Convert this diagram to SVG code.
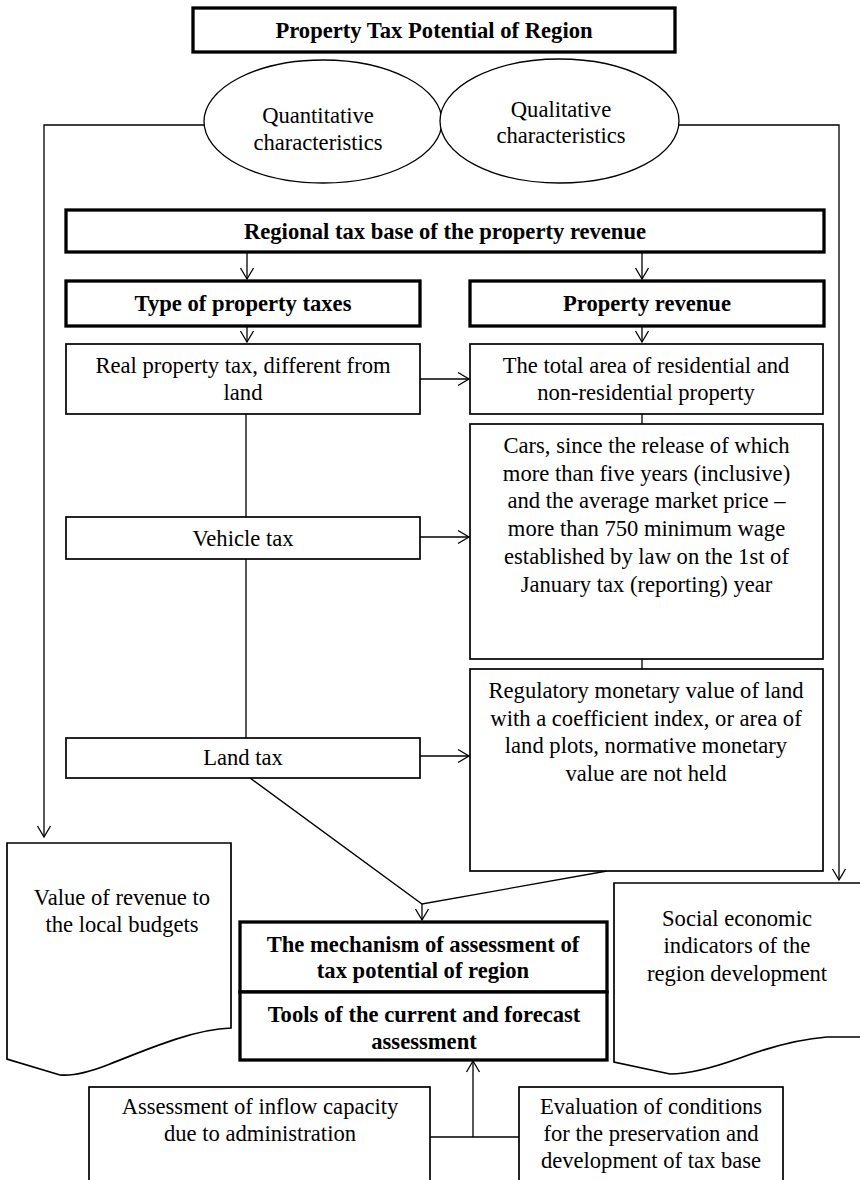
<svg xmlns="http://www.w3.org/2000/svg" width="860" height="1180" viewBox="0 0 860 1180">
<style>
text{font-family:"Liberation Serif","Times New Roman",serif;font-size:22.6px;fill:#000;text-anchor:middle}
.b{font-weight:bold}
.thick{fill:#fff;stroke:#000;stroke-width:3.3}
.thin{fill:#fff;stroke:#000;stroke-width:1.7}
.ln{fill:none;stroke:#000;stroke-width:1.3}
</style>
<defs>
<marker id="ah" markerUnits="userSpaceOnUse" markerWidth="16" markerHeight="16" viewBox="-13 -8 15 16" refX="0" refY="0" orient="auto">
<path d="M-11,-6.5 L0,0 L-11,6.5" fill="none" stroke="#000" stroke-width="1.3"/>
</marker>
</defs>
<rect width="860" height="1180" fill="#fff"/>
<g id="connectors">
<path class="ln" d="M204,125 H44 V837" marker-end="url(#ah)"/>
<path class="ln" d="M679,125 H839 V880" marker-end="url(#ah)"/>
<path class="ln" d="M247,252 V279" marker-end="url(#ah)"/>
<path class="ln" d="M642,252 V279" marker-end="url(#ah)"/>
<path class="ln" d="M247,326 V342" marker-end="url(#ah)"/>
<path class="ln" d="M642,326 V342" marker-end="url(#ah)"/>
<path class="ln" d="M420,379 H469" marker-end="url(#ah)"/>
<path class="ln" d="M420,537 H469" marker-end="url(#ah)"/>
<path class="ln" d="M420,756 H469" marker-end="url(#ah)"/>
<path class="ln" d="M246,414 V517 M246,559 V738"/>
<path class="ln" d="M642,414 V424 M642,659 V669"/>
<path class="ln" d="M250,778 L422,904 L607,871"/>
<path class="ln" d="M422,904 V920" marker-end="url(#ah)"/>
<path class="ln" d="M430,1137 H519 M473,1137 V1061" marker-end="url(#ah)"/>
</g>
<g id="title"><rect class="thick" x="193" y="8" width="482" height="44"/><text class="b" x="434" y="38">Property Tax Potential of Region</text></g>
<g id="quantitative"><ellipse class="thin" cx="323" cy="121.5" rx="119" ry="61.5" style="stroke-width:1.3"/><text x="318" y="123">Quantitative</text><text x="318" y="150">characteristics</text></g>
<g id="qualitative"><ellipse class="thin" cx="559.5" cy="121" rx="119.5" ry="62" style="stroke-width:1.3"/><text x="561" y="117">Qualitative</text><text x="561" y="143">characteristics</text></g>
<g id="regional"><rect class="thick" x="66" y="210" width="758" height="42"/><text class="b" x="445" y="239">Regional tax base of the property revenue</text></g>
<g id="type"><rect class="thick" x="66" y="281" width="354" height="45"/><text class="b" x="243" y="311">Type of property taxes</text></g>
<g id="revenue"><rect class="thick" x="470" y="281" width="354" height="45"/><text class="b" x="647" y="311">Property revenue</text></g>
<g id="realprop"><rect class="thin" x="66" y="344" width="354" height="70"/><text x="243" y="373">Real property tax, different from</text><text x="243" y="400">land</text></g>
<g id="totalarea"><rect class="thin" x="470" y="344" width="353" height="70"/><text x="646" y="373">The total area of residential and</text><text x="646" y="400">non-residential property</text></g>
<g id="vehicle"><rect class="thin" x="66" y="517" width="354" height="42"/><text x="243" y="546">Vehicle tax</text></g>
<g id="cars"><rect class="thin" x="470" y="424" width="353" height="235"/>
<text x="646.5" y="453">Cars, since the release of which</text>
<text x="646.5" y="481">more than five years (inclusive)</text>
<text x="646.5" y="508">and the average market price –</text>
<text x="646.5" y="536">more than 750 minimum wage</text>
<text x="646.5" y="564">established by law on the 1st of</text>
<text x="646.5" y="592">January tax (reporting) year</text></g>
<g id="land"><rect class="thin" x="66" y="738" width="354" height="40"/><text x="243" y="765">Land tax</text></g>
<g id="regulatory"><rect class="thin" x="470" y="669" width="353" height="202"/>
<text x="646" y="698">Regulatory monetary value of land</text>
<text x="646" y="726">with a coefficient index, or area of</text>
<text x="646" y="753">land plots, normative monetary</text>
<text x="646" y="781">value are not held</text></g>
<g id="valuerev"><path class="thin" d="M7,843 H231 V1028 C195,1029 150,1048 110,1064 C90,1072 72,1076 60,1075 L7,1059 Z"/><text x="122" y="905">Value of revenue to</text><text x="122" y="932">the local budgets</text></g>
<g id="social"><path class="thin" d="M614,883 H875 V1037 H827 C800,1039 770,1047 740,1058 C715,1067 690,1074 670,1074 L614,1062 Z"/><text x="737" y="926">Social economic</text><text x="737" y="953">indicators of the</text><text x="737" y="981">region development</text></g>
<g id="mechanism"><rect class="thick" x="240" y="922" width="367" height="70"/><text class="b" x="423" y="952">The mechanism of assessment of</text><text class="b" x="423" y="978">tax potential of region</text></g>
<g id="tools"><rect class="thick" x="240" y="992" width="367" height="68"/><text class="b" x="424" y="1022">Tools of the current and forecast</text><text class="b" x="424" y="1049">assessment</text></g>
<g id="inflow"><rect class="thin" x="89" y="1087" width="341" height="140"/><text x="260" y="1114">Assessment of inflow capacity</text><text x="260" y="1141">due to administration</text></g>
<g id="evaluation"><rect class="thin" x="519" y="1087" width="264" height="140"/><text x="651" y="1114">Evaluation of conditions</text><text x="651" y="1141">for the preservation and</text><text x="651" y="1168">development of tax base</text></g>
</svg>
